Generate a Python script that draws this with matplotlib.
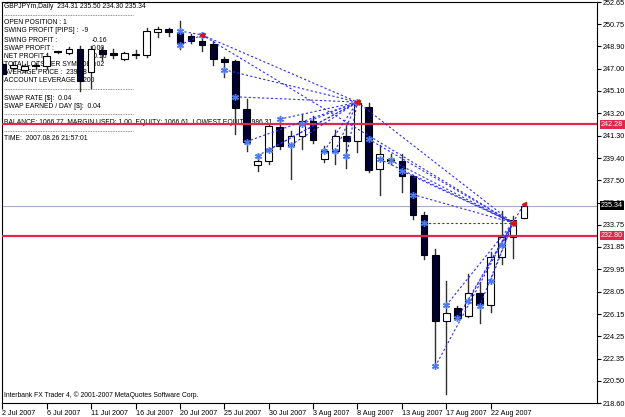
import matplotlib
matplotlib.use("Agg")
import matplotlib.pyplot as plt
from matplotlib.patches import Rectangle
from matplotlib.lines import Line2D

plt.rcParams['font.family'] = ['Liberation Sans', 'DejaVu Sans']

# daily bars, 2 Jul 2007 .. 26 Aug 2007 (sunday bars included)
opens = [247.39, 247.05, 246.90, 247.30, 247.22, 248.45, 248.32, 248.66, 246.71, 248.58,
         248.32, 247.81, 248.24, 248.15, 250.10, 250.36, 250.10, 249.76, 249.34, 249.08,
         247.81, 247.64, 243.57, 238.81, 239.15, 242.04, 240.43, 241.27, 242.55, 239.32,
         240.00, 241.27, 240.85, 243.74, 238.47, 239.32, 239.15, 237.88, 234.57, 231.17,
         225.57, 226.67, 225.99, 227.95, 226.93, 231.00, 232.70, 234.31]
highs = [247.64, 247.56, 247.40, 247.50, 248.30, 248.50, 248.80, 248.90, 248.90, 248.80,
         248.70, 248.40, 248.60, 250.44, 250.53, 250.44, 251.04, 249.90, 249.51, 249.34,
         247.98, 247.70, 244.42, 239.58, 242.30, 242.97, 241.70, 243.14, 242.97, 240.43,
         241.78, 242.12, 244.16, 244.08, 240.51, 239.75, 239.75, 237.95, 234.82, 231.68,
         228.96, 226.80, 229.56, 228.88, 231.43, 234.91, 234.48, 235.50]
lows = [245.94, 246.80, 246.70, 247.00, 247.00, 248.35, 248.20, 245.09, 245.35, 247.70,
        247.90, 247.70, 247.90, 247.98, 249.68, 249.76, 248.66, 249.20, 248.49, 247.30,
        246.28, 241.44, 240.00, 238.30, 238.90, 240.17, 237.62, 240.17, 240.70, 239.07,
        238.90, 238.56, 239.92, 238.22, 236.27, 238.90, 236.52, 234.23, 230.83, 221.66,
        219.37, 225.70, 225.90, 225.40, 226.33, 230.41, 230.92, 234.30]
closes = [246.54, 247.30, 247.22, 247.25, 248.07, 248.41, 248.66, 245.94, 248.66, 248.24,
          248.15, 248.32, 248.15, 250.19, 250.36, 250.10, 249.08, 249.34, 249.00, 247.81,
          247.56, 243.65, 240.77, 239.15, 242.12, 240.43, 241.27, 242.55, 240.94, 240.00,
          241.27, 240.85, 244.08, 238.39, 239.75, 239.15, 237.88, 234.57, 231.17, 225.57,
          226.25, 225.82, 227.95, 226.93, 231.00, 232.70, 234.14, 235.34]

date_labels = ["2 Jul 2007", "6 Jul 2007", "11 Jul 2007", "16 Jul 2007", "20 Jul 2007",
               "25 Jul 2007", "30 Jul 2007", "3 Aug 2007", "8 Aug 2007", "13 Aug 2007",
               "17 Aug 2007", "22 Aug 2007"]
date_bars = [0, 4, 8, 12, 16, 20, 24, 28, 32, 36, 40, 44]

price_ticks = [252.65, 250.75, 248.90, 247.00, 245.10, 243.20, 241.30, 239.40, 237.50,
               235.60, 233.75, 231.85, 229.95, 228.05, 226.15, 224.25, 222.35, 220.50, 218.60]

# trade history: entry bar/price -> exit bar/price
entry_bars = [16, 16, 18, 20, 21, 22, 23, 24, 25, 26, 27, 29, 30, 31,
              18, 32, 33, 34, 35, 36, 37, 38, 39, 40, 41, 42, 43, 44, 45, 46]
entry_prices = [250.19, 249.00, 249.85, 246.90, 244.60, 240.80, 239.60, 240.10, 242.70, 240.50,
                242.30, 240.00, 240.00, 239.60,
                249.85, 244.15, 241.00, 239.30, 239.20, 238.30, 236.30, 233.90, 221.70, 226.90,
                225.80, 227.30, 226.80, 229.00, 232.00, 233.90]
exit_bars = [18, 18, 32, 32, 32, 32, 32, 32, 32, 32, 32, 32, 32, 32,
             46, 46, 46, 46, 46, 46, 46, 46, 46, 46, 46, 46, 46, 46, 46, 47]
exit_prices = [249.85, 249.85, 244.15, 244.15, 244.15, 244.15, 244.15, 244.15, 244.15, 244.15,
               244.15, 244.15, 244.15, 244.15,
               233.90, 233.90, 233.90, 233.90, 233.90, 233.90, 233.90, 233.90, 233.90, 233.90,
               233.90, 233.90, 233.90, 233.90, 233.90, 235.50]

stop_level = 242.28
target_level = 232.80
last_price = 235.34

fig = plt.figure(figsize=(6.25, 4.17), dpi=100)
ax = fig.add_axes([2 / 625, 14 / 417, 595 / 625, 401 / 417])

# candles
for i in range(len(opens)):
    o, h, l, c = opens[i], highs[i], lows[i], closes[i]
    ax.plot([i, i], [l, h], color='#303030', lw=1, zorder=2)
    bottom = min(o, c)
    height = max(abs(c - o), 0.04)
    face = 'white' if c >= o else '#000030'
    ax.add_patch(Rectangle((i - 0.3, bottom), 0.6, height, facecolor=face,
                           edgecolor='black', lw=0.8, zorder=3))

# level lines
ax.axhline(stop_level, color='#e0284a', lw=1.6, zorder=4)
ax.axhline(target_level, color='#e0284a', lw=1.6, zorder=4)
ax.axhline(last_price, color='#a8acc8', lw=0.8, zorder=1)

# trade lines
for eb, ep, xb, xp in zip(entry_bars, entry_prices, exit_bars, exit_prices):
    ax.plot([eb, xb], [ep, xp], color='#2b2bff', lw=0.8, ls=(0, (2, 2)), zorder=5)
ax.plot(entry_bars, entry_prices, ls='none', marker=(6, 2, 0), ms=5, mew=1,
        color='#4a7af0', zorder=6)
ax.plot(exit_bars, exit_prices, ls='none', marker='<', ms=3, color='#e01010', zorder=6)

ax.set_xlim(-0.03, 53.58)
ax.set_ylim(218.60, 252.65)

ax.yaxis.tick_right()
ax.set_yticks(price_ticks)
ax.set_yticklabels(['%.2f' % p for p in price_ticks])
ax.tick_params(axis='y', direction='out', length=3, pad=1, labelsize=5.2, colors='black')
ax.set_xticks(date_bars)
ax.set_xticklabels(date_labels, ha='left')
ax.tick_params(axis='x', direction='out', length=4, pad=1, labelsize=5.2)
for s in ax.spines.values():
    s.set_color('black')
    s.set_linewidth(0.8)

# price tags on the right axis
for lvl, bg in [(stop_level, '#e0284a'), (target_level, '#e0284a'), (last_price, '#000000')]:
    ax.annotate('%.2f' % lvl, xy=(1, lvl), xycoords=('axes fraction', 'data'),
                xytext=(3, 0), textcoords='offset points', va='center', ha='left',
                fontsize=5.2, color='white',
                bbox=dict(boxstyle='square,pad=0.15', fc=bg, ec='none'), zorder=10,
                annotation_clip=False)

# info panel (drawn under the candles, like the terminal does)
def px(x, y):
    return x / 625, 1 - y / 417

fs = 4.9
tf = fig.transFigure
ax.text(*px(4, 7), 'GBPJPYm,Daily  234.31 235.50 234.30 235.34', fontsize=fs, va='center',
        transform=tf, zorder=1.5)
panel = [
    (23, 'OPEN POSITION : 1', None),
    (31, 'SWING PROFIT [PIPS] :  -9', None),
    (40, 'SWING PROFIT :', '-0.16'),
    (48, 'SWAP PROFIT :', '0.00'),
    (56, 'NET PROFIT :', '-0.16'),
    (64, 'TOTAL LOTS PER SYMBOL :', '0.02'),
    (73, 'AVERAGE PRICE :  239.28', None),
    (81, 'ACCOUNT LEVERAGE 1:200', None),
    (98, 'SWAP RATE [$]:  0.04', None),
    (106, 'SWAP EARNED / DAY [$]:  0.04', None),
    (123, 'BALANCE: 1066.77, MARGIN USED: 1.00, EQUITY: 1066.61, LOWEST EQUITY: 986.31', None),
    (139, 'TIME:  2007.08.26 21:57:01', None),
]
for y, label, val in panel:
    ax.text(*px(4, y), label, fontsize=fs, va='center', transform=tf, zorder=1.5)
    if val is not None:
        ax.text(*px(92, y), val, fontsize=fs, va='center', transform=tf, zorder=1.5)
for y in [15, 89, 114, 131]:
    ax.add_line(Line2D([4 / 625, 133 / 625], [1 - y / 417] * 2, color='#707070',
                       lw=0.6, ls=(0, (1, 1)), transform=tf, zorder=1.5))
ax.text(*px(4, 395), 'Interbank FX Trader 4, \u00a9 2001-2007 MetaQuotes Software Corp.',
        fontsize=fs, va='center', transform=tf, zorder=1.5)

fig.savefig('out.png', dpi=100)
